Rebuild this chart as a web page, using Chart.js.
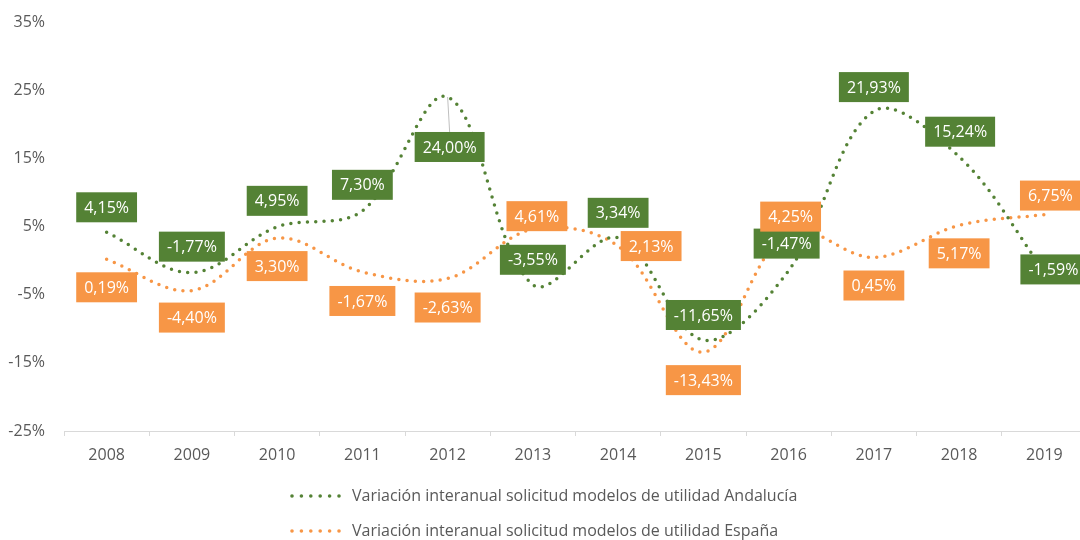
<!DOCTYPE html>
<html>
<head>
<meta charset="utf-8">
<script src="https://cdn.jsdelivr.net/npm/chart.js@4.4.1/dist/chart.umd.min.js"></script>
<style>
  html, body { margin: 0; padding: 0; background: #fff; overflow: hidden; }
  #wrap { width: 1090px; height: 540px; position: relative; }
</style>
</head>
<body>
<div id="wrap"><canvas id="chart"></canvas></div>
<script>
const years = ['2008', '2009', '2010', '2011', '2012', '2013', '2014', '2015', '2016', '2017', '2018', '2019'];
const andalucia = [4.15, -1.77, 4.95, 7.30, 24.00, -3.55, 3.34, -11.65, -1.47, 21.93, 15.24, -1.59];
const espana = [0.19, -4.40, 3.30, -1.67, -2.63, 4.61, 2.13, -13.43, 4.25, 0.45, 5.17, 6.75];
const seriesNames = [
  'Variación interanual solicitud modelos de utilidad Andalucía',
  'Variación interanual solicitud modelos de utilidad España'
];

// label offsets from the point, in pixels [dx, dy]
const labelOffsetsA = [[0, -25], [0, -26], [0, -26], [0, -26], [2, 50], [0, -25], [0, -25], [0, -25], [-2, -27], [0, -24], [1, -25], [9, -2]];
const labelOffsetsB = [[0, 28], [0, 27], [0, 28], [0, 29], [0, 29], [4, -13], [33, 0], [0, 28], [2, -15], [0, 28], [0, 28], [6, -19]];

const COLORS = {
  green: '#548235',
  orange: '#F79646',
  text: '#595959',
  axis: '#d9d9d9'
};
const FONT = '"Open Sans", "Noto Sans", sans-serif';

function fmt(v) {
  return v.toFixed(2).replace('.', ',') + '%';
}

const dataLabelsPlugin = {
  id: 'boxLabels',
  afterDatasetsDraw(chart) {
    const ctx = chart.ctx;
    const configs = [
      { values: andalucia, offsets: labelOffsetsA, color: COLORS.green, leader: [4] },
      { values: espana, offsets: labelOffsetsB, color: COLORS.orange, leader: [] }
    ];
    ctx.save();
    ctx.font = '16px ' + FONT;
    ctx.textAlign = 'center';
    ctx.textBaseline = 'middle';
    configs.forEach((cfg, di) => {
      const meta = chart.getDatasetMeta(di);
      meta.data.forEach((pt, i) => {
        const [dx, dy] = cfg.offsets[i];
        const cx = pt.x + dx;
        const cy = pt.y + dy;
        const text = fmt(cfg.values[i]);
        const w = ctx.measureText(text).width + 16;
        const h = 30;
        if (cfg.leader.includes(i)) {
          ctx.strokeStyle = '#bfbfbf';
          ctx.lineWidth = 1;
          ctx.beginPath();
          ctx.moveTo(pt.x, pt.y);
          ctx.lineTo(cx, cy - h / 2);
          ctx.stroke();
        }
        ctx.fillStyle = cfg.color;
        ctx.fillRect(cx - w / 2, cy - h / 2, w, h);
        ctx.fillStyle = '#ffffff';
        ctx.fillText(text, cx, cy + 1);
      });
    });
    ctx.restore();
  }
};

const legendPlugin = {
  id: 'dotLegend',
  afterDraw(chart) {
    const ctx = chart.ctx;
    const rows = [
      { y: 496, color: COLORS.green, text: seriesNames[0] },
      { y: 531, color: COLORS.orange, text: seriesNames[1] }
    ];
    ctx.save();
    rows.forEach((r) => {
      ctx.fillStyle = r.color;
      for (let k = 0; k < 6; k++) {
        ctx.beginPath();
        ctx.arc(292 + k * 9.4, r.y, 1.8, 0, Math.PI * 2);
        ctx.fill();
      }
      ctx.fillStyle = COLORS.text;
      ctx.font = '16px ' + FONT;
      ctx.textAlign = 'left';
      ctx.textBaseline = 'middle';
      ctx.fillText(r.text, 352, r.y);
    });
    ctx.restore();
  }
};

function lineDataset(label, data, color) {
  return {
    label,
    data,
    borderColor: color,
    backgroundColor: color,
    borderWidth: 3.5,
    borderDash: [0, 8.3],
    borderCapStyle: 'round',
    pointRadius: 0,
    tension: 0.35,
    fill: false
  };
}

new Chart(document.getElementById('chart'), {
  type: 'line',
  data: {
    labels: years,
    datasets: [
      lineDataset(seriesNames[0], andalucia, COLORS.green),
      lineDataset(seriesNames[1], espana, COLORS.orange)
    ]
  },
  options: {
    responsive: true,
    maintainAspectRatio: false,
    animation: false,
    layout: { padding: { top: 22, right: 3, bottom: 69, left: 0 } },
    scales: {
      x: {
        offset: true,
        grid: { display: true, offset: true, drawOnChartArea: false, drawTicks: true, tickLength: 5, color: COLORS.axis },
        border: { display: true, color: COLORS.axis },
        ticks: { color: COLORS.text, font: { family: FONT, size: 16 }, padding: 10, maxRotation: 0 },
        afterFit(scale) { scale.height = 40; }
      },
      y: {
        min: -25,
        max: 35,
        grid: { display: false, drawTicks: false },
        border: { display: false },
        ticks: {
          stepSize: 10,
          color: COLORS.text,
          font: { family: FONT, size: 16 },
          padding: 19,
          callback: (v) => v + '%'
        },
        afterFit(scale) {
          scale.width = 64;
          scale.paddingTop = 0;
          scale.paddingBottom = 0;
        }
      }
    },
    plugins: {
      legend: { display: false },
      tooltip: { enabled: false }
    }
  },
  plugins: [dataLabelsPlugin, legendPlugin]
});
</script>
</body>
</html>
